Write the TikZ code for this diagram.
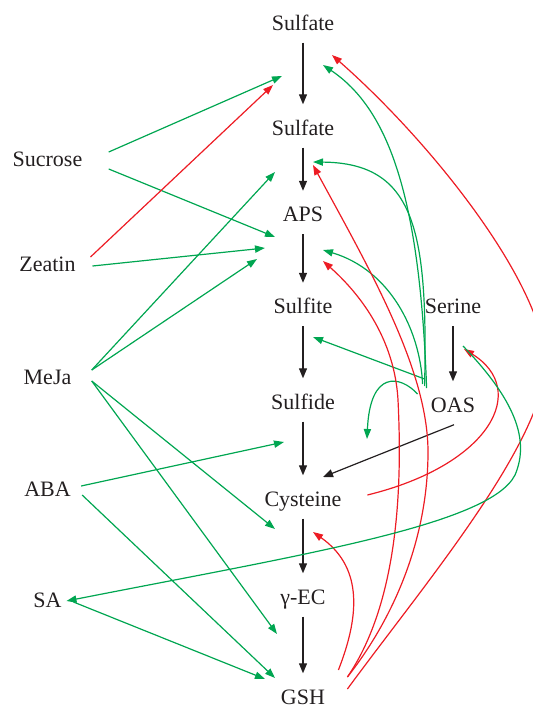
\documentclass[tikz,border=0pt]{standalone}
\usepackage{fontspec}
\setmainfont{Liberation Serif}
\usetikzlibrary{arrows.meta}

\definecolor{hijau}{HTML}{00A651}
\definecolor{merah}{HTML}{ED1C24}
\definecolor{hitam}{HTML}{231F20}

\tikzset{
  senyawa/.style={inner sep=0pt, text height=7.3pt, text depth=0pt,
      font=\fontsize{11}{13}\selectfont, text=hitam},
  reaksi/.style={draw=hitam, line width=0.6pt, -{Triangle[length=5pt,width=4pt]},
      shorten <=6pt, shorten >=8pt},
  naik/.style={draw=hijau, line width=0.6pt, -{Triangle[length=5pt,width=3.6pt]}},
  turun/.style={draw=merah, line width=0.6pt, -{Triangle[length=5pt,width=3.6pt]}}
}

\begin{document}
\begin{tikzpicture}[x=0.5pt,y=-0.5pt]
      \useasboundingbox (0,0) rectangle (533,707);
      \clip (0,0) rectangle (533,707);

      % Jalur utama
      \node[senyawa] (s1)  at (303,23)    {Sulfate};
      \node[senyawa] (s2)  at (303,128)   {Sulfate};
      \node[senyawa] (aps) at (303,214.5) {APS};
      \node[senyawa] (sfi) at (303,306.5) {Sulfite};
      \node[senyawa] (sfd) at (303,402)   {Sulfide};
      \node[senyawa] (cys) at (303,499)   {Cysteine};
      \node[senyawa] (gec) at (303,597)   {γ-EC};
      \node[senyawa] (gsh) at (303,697)   {GSH};
      \node[senyawa] (ser) at (453,306.5) {Serine};
      \node[senyawa] (oas) at (453,405)   {OAS};

      % Pengatur (kolom kiri)
      \foreach \n/\t/\y in {suc/Sucrose/159, zea/Zeatin/264, mej/MeJa/377, aba/ABA/489, sa/SA/600} {
          \node[senyawa] (\n) at (47.5,\y) {\t};
        }

      % Panah reaksi
      \foreach \a/\b in {s1/s2, s2/aps, aps/sfi, sfi/sfd, sfd/cys, cys/gec, gec/gsh, ser/oas} {
          \draw[reaksi] (\a.south) -- (\b.north);
        }

      % Titik sasaran pada panah
      \coordinate (a1) at (282,76);
      \coordinate (a2) at (273,85);
      \coordinate (a3) at (332,55);
      \coordinate (a4) at (323,65);
      \coordinate (b1) at (275,172);
      \coordinate (b2) at (313,162);
      \coordinate (b3) at (313,165);
      \coordinate (c1) at (275,237);
      \coordinate (c2) at (265,248);
      \coordinate (c3) at (257,259);
      \coordinate (c4) at (323,250);
      \coordinate (c5) at (323,261);
      \coordinate (d1) at (313,337);
      \coordinate (d2) at (367,439);
      \coordinate (e1) at (284,442);
      \coordinate (e2) at (323,477);
      \coordinate (f1) at (275,529);
      \coordinate (f2) at (313,532);
      \coordinate (g1) at (277,634);
      \coordinate (g2) at (275,678);
      \coordinate (g3) at (265,679);
      \coordinate (h1) at (464,349);
      \coordinate (h2) at (463,346);

      % Dari kolom kiri
      \draw[naik]  ([shift={(26,-7)}]suc.east) -- (a1);
      \draw[naik]  ([shift={(26,10)}]suc.east) -- (c1);
      \draw[turun] ([shift={(14.5,-7)}]zea.east) -- (a2);
      \draw[naik]  ([shift={(16.5,2)}]zea.east) -- (c2);
      \draw[naik]  ([shift={(20,-7)}]mej.east) -- (b1);
      \draw[naik]  ([shift={(20,-7)}]mej.east) -- (c3);
      \draw[naik]  ([shift={(20,4)}]mej.east) -- (f1);
      \draw[naik]  ([shift={(20,4)}]mej.east) -- (g1);
      \draw[naik]  ([shift={(10,-3)}]aba.east) -- (e1);
      \draw[naik]  ([shift={(11,6)}]aba.east) -- (g2);
      \draw[naik]  ([shift={(11.5,2)}]sa.east) -- (g3);

      % Dari OAS
      \draw[naik] ([shift={(-4,-17)}]oas.west) .. controls (420,200) and (390,110) .. (a4);
      \draw[naik] ([shift={(-6,-19)}]oas.west) .. controls (428,230) and (415,163) .. (b2);
      \draw[naik] ([shift={(-8,-21)}]oas.west) .. controls (420,330) and (390,270) .. (c4);
      \draw[naik] ([shift={(-6,-26)}]oas.west) -- (d1);
      \draw[naik] ([shift={(-13,-11)}]oas.west) .. controls (400,375) and (370,370) .. (d2);
      \draw[reaksi, shorten <=0pt, shorten >=0pt] ([shift={(1,12)}]oas.south) -- (e2);

      % Dari GSH
      \draw[turun] ([shift={(13,-27)}]gsh.east) .. controls (362,610) and (360,565) .. (f2);
      \draw[turun] ([shift={(22,-20)}]gsh.east) .. controls (400,610) and (428,530) .. (428,452)
        .. controls (428,370) and (370,270) .. (b3);
      \draw[turun] ([shift={(22,-20)}]gsh.east) .. controls (400,600) and (402,480) .. (398,400)
        .. controls (394,330) and (350,285) .. (c5);
      \draw[turun] ([shift={(22,-8)}]gsh.east) .. controls (420,590) and (530,460) .. (545,375)
        .. controls (555,300) and (440,150) .. (a3);

      % Sistein ke serin, lalu ke SA
      \draw[turun] ([shift={(25.5,-4)}]cys.east) .. controls (490,465) and (530,390) .. (h1);
      \draw[naik] (h2) .. controls (515,400) and (530,440) .. (515,475)
        .. controls (490,525) and (300,555) .. ([shift={(4.5,1)}]sa.east);
    \end{tikzpicture}
\end{document}
